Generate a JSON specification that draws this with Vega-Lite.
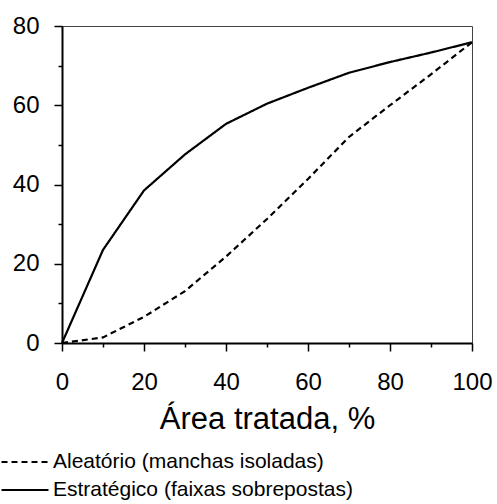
{
  "$schema": "https://vega.github.io/schema/vega-lite/v6.json",
  "width": 410,
  "height": 317,
  "autosize": {"type": "none"},
  "padding": {"left": 62, "top": 26, "right": 25, "bottom": 161},
  "background": "white",
  "config": {
    "font": "Liberation Sans",
    "view": {"stroke": "#444", "strokeWidth": 1}
  },
  "data": {
    "values": [
      {"x": 0, "y": 0, "s": "Aleatório (manchas isoladas)"},
      {"x": 10, "y": 1.4, "s": "Aleatório (manchas isoladas)"},
      {"x": 20, "y": 6.6, "s": "Aleatório (manchas isoladas)"},
      {"x": 30, "y": 13.1, "s": "Aleatório (manchas isoladas)"},
      {"x": 40, "y": 21.8, "s": "Aleatório (manchas isoladas)"},
      {"x": 50, "y": 31.3, "s": "Aleatório (manchas isoladas)"},
      {"x": 60, "y": 41.4, "s": "Aleatório (manchas isoladas)"},
      {"x": 70, "y": 52.0, "s": "Aleatório (manchas isoladas)"},
      {"x": 80, "y": 60.0, "s": "Aleatório (manchas isoladas)"},
      {"x": 90, "y": 67.8, "s": "Aleatório (manchas isoladas)"},
      {"x": 100, "y": 75.9, "s": "Aleatório (manchas isoladas)"},
      {"x": 0, "y": 0, "s": "Estratégico (faixas sobrepostas)"},
      {"x": 10, "y": 23.5, "s": "Estratégico (faixas sobrepostas)"},
      {"x": 20, "y": 38.5, "s": "Estratégico (faixas sobrepostas)"},
      {"x": 30, "y": 47.6, "s": "Estratégico (faixas sobrepostas)"},
      {"x": 40, "y": 55.3, "s": "Estratégico (faixas sobrepostas)"},
      {"x": 50, "y": 60.4, "s": "Estratégico (faixas sobrepostas)"},
      {"x": 60, "y": 64.4, "s": "Estratégico (faixas sobrepostas)"},
      {"x": 70, "y": 68.2, "s": "Estratégico (faixas sobrepostas)"},
      {"x": 80, "y": 70.9, "s": "Estratégico (faixas sobrepostas)"},
      {"x": 90, "y": 73.3, "s": "Estratégico (faixas sobrepostas)"},
      {"x": 100, "y": 75.9, "s": "Estratégico (faixas sobrepostas)"}
    ]
  },
  "mark": {"type": "line", "color": "black", "strokeWidth": 2.2},
  "encoding": {
    "x": {
      "field": "x", "type": "quantitative",
      "scale": {"domain": [0, 100], "nice": false},
      "axis": {
        "title": "Área tratada, %",
        "titleFontSize": 31, "titleFontWeight": "normal", "titleColor": "black", "titlePadding": 10,
        "values": [0, 10, 20, 30, 40, 50, 60, 70, 80, 90, 100],
        "labelExpr": "datum.value % 20 === 0 ? datum.label : ''",
        "labelFontSize": 24, "labelColor": "black", "labelPadding": 19, "labelFlush": false,
        "domainColor": "black", "domainWidth": 2,
        "tickColor": "black", "tickWidth": 1.5,
        "tickSize": {"condition": {"test": "datum.value % 20 === 0", "value": 8}, "value": 4},
        "grid": false
      }
    },
    "y": {
      "field": "y", "type": "quantitative",
      "scale": {"domain": [0, 80], "nice": false},
      "axis": {
        "title": null,
        "values": [0, 10, 20, 30, 40, 50, 60, 70, 80],
        "labelExpr": "datum.value % 20 === 0 ? datum.label : ''",
        "labelFontSize": 24, "labelColor": "black", "labelPadding": 15,
        "domainColor": "black", "domainWidth": 2,
        "tickColor": "black", "tickWidth": 1.5,
        "tickSize": {"condition": {"test": "datum.value % 20 === 0", "value": 8}, "value": 4},
        "grid": false
      }
    },
    "strokeDash": {
      "field": "s", "type": "nominal",
      "scale": {
        "domain": ["Aleatório (manchas isoladas)", "Estratégico (faixas sobrepostas)"],
        "range": [[6, 4], [1, 0]]
      },
      "legend": {
        "title": null,
        "orient": "none",
        "legendX": -50,
        "legendY": 423,
        "symbolType": "M-2,0H2",
        "symbolSize": 552,
        "symbolStrokeWidth": 2,
        "symbolStrokeColor": "black",
        "symbolFillColor": "transparent",
        "labelFontSize": 21,
        "labelColor": "black",
        "labelOffset": 15,
        "labelLimit": 450,
        "rowPadding": 5
      }
    }
  }
}
